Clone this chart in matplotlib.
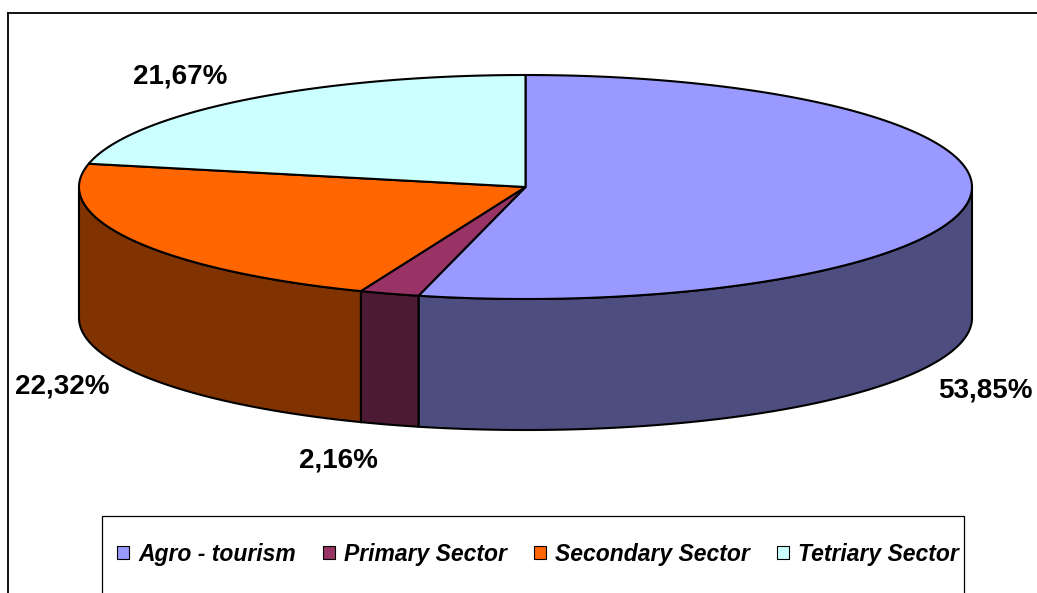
import numpy as np
import matplotlib
matplotlib.use("Agg")
import matplotlib.pyplot as plt
from matplotlib.patches import Polygon, Patch, Rectangle

# data
sectors = ["Agro - tourism", "Primary Sector", "Secondary Sector", "Tetriary Sector"]
shares = [53.85, 2.16, 22.32, 21.67]
top_colors = ["#9999FF", "#993366", "#FF6600", "#CCFFFF"]
side_colors = ["#4D4D80", "#4D1A33", "#803300", "#668080"]

# label positions in pixels (centre of text)
label_pos = [(985, 390), (338, 460), (62, 386), (180, 77)]

# pie geometry (pixels)
cx, cy = 525.5, 187.0
rx, ry = 446.5, 112.0
depth = 131.0


def arc(a0, a1, dy=0.0, n=200):
    t = np.radians(np.linspace(a0, a1, n))
    return np.column_stack([cx + rx * np.sin(t), cy - ry * np.cos(t) + dy])


fig = plt.figure(figsize=(10.37, 5.93), dpi=100)
ax = fig.add_axes([0, 0, 1, 1])
ax.set_xlim(0, 1037)
ax.set_ylim(593, 0)
ax.axis("off")

edges = np.concatenate([[0], np.cumsum(shares) / sum(shares) * 360])

# side walls (only front half is visible)
for i in range(len(shares)):
    a0, a1 = max(edges[i], 90), min(edges[i + 1], 270)
    if a1 <= a0:
        continue
    top = arc(a0, a1)
    bot = arc(a0, a1, depth)[::-1]
    ax.add_patch(Polygon(np.vstack([top, bot]), closed=True,
                         facecolor=side_colors[i], edgecolor="black", lw=1.5, zorder=2))

# top faces
for i in range(len(shares)):
    pts = np.vstack([[cx, cy], arc(edges[i], edges[i + 1])])
    ax.add_patch(Polygon(pts, closed=True, facecolor=top_colors[i],
                         edgecolor="black", lw=1.5, zorder=3))

# percentage labels
for v, (x, y) in zip(shares, label_pos):
    ax.text(x, y, f"{v:.2f}%".replace(".", ","), ha="center", va="center",
            fontsize=20, fontweight="bold", family="Liberation Sans", zorder=5)

# chart frame (left and top edges visible)
ax.plot([8, 8], [13, 600], color="black", lw=1.3, clip_on=False)
ax.plot([8, 1040], [13, 13], color="black", lw=1.3, clip_on=False)

# legend box
ax.add_patch(Rectangle((102, 516), 862, 100, facecolor="white",
                       edgecolor="black", lw=0.9, zorder=4))
handles = [Patch(facecolor=c, edgecolor="black", lw=0.8) for c in top_colors]
leg = ax.legend(handles, sectors, loc="center", bbox_to_anchor=(538 / 1037, 1 - 554 / 593),
                bbox_transform=fig.transFigure, ncol=4, frameon=False,
                prop={"family": "Liberation Sans", "weight": "bold", "style": "italic", "size": 16.5},
                handlelength=0.5, handleheight=0.5, handletextpad=0.4, columnspacing=1.2)
leg.set_zorder(6)

fig.savefig("out.png", dpi=100)
